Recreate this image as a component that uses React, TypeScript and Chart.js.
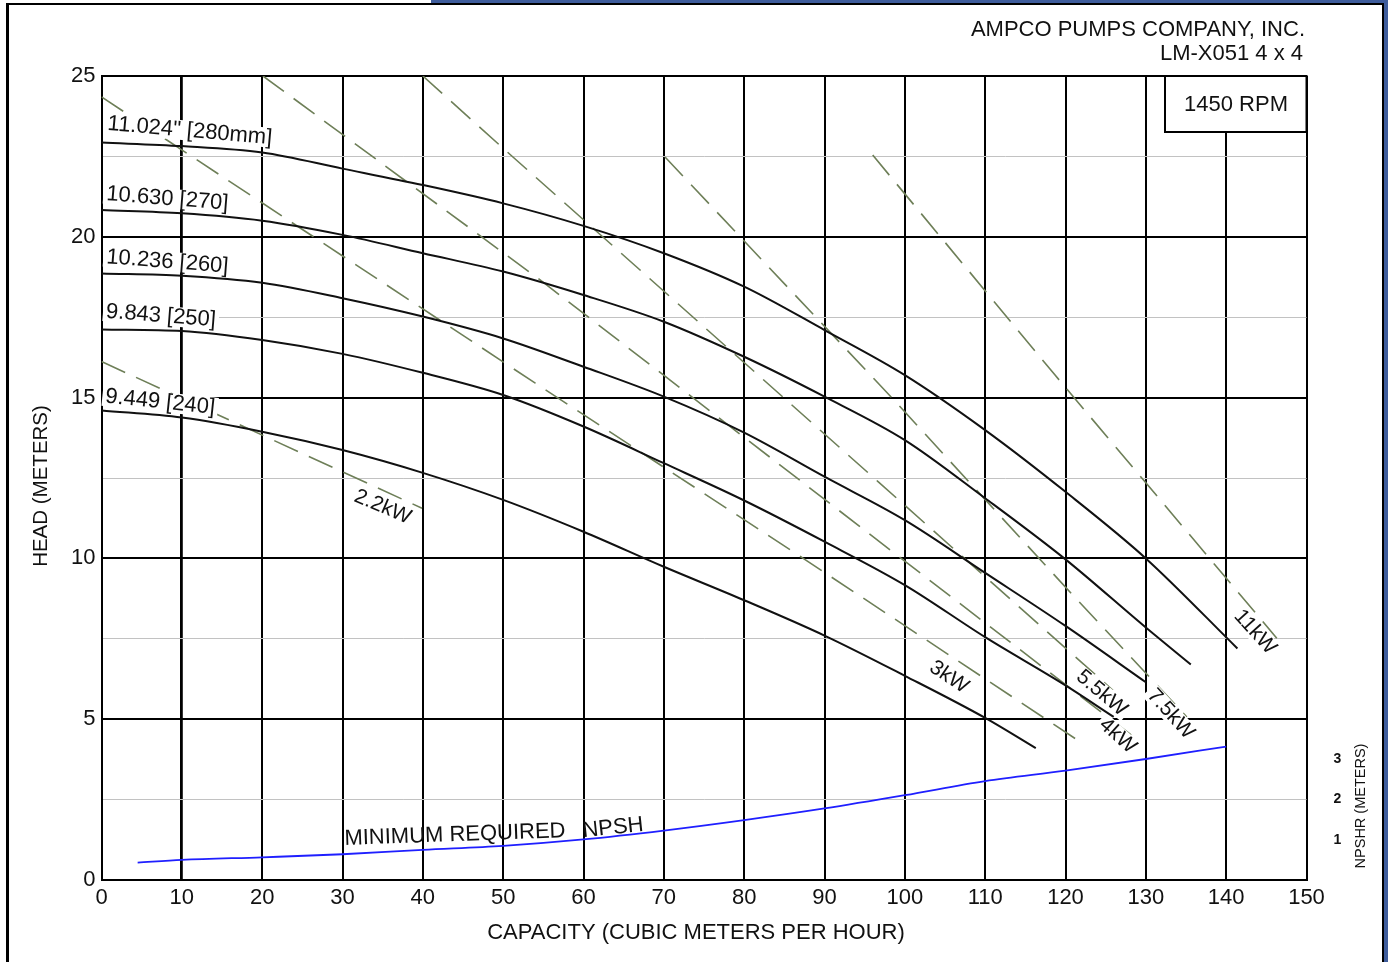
import React, { useEffect, useRef } from "react";
import { Chart, registerables } from "chart.js";

Chart.register(...registerables);

// ---------------- data ----------------
const flow280 = [0, 10, 20, 30, 40, 50, 60, 70, 80, 90, 100, 110, 120, 130, 141.4];
const head280 = [22.93, 22.82, 22.62, 22.12, 21.61, 21.04, 20.34, 19.49, 18.45, 17.1, 15.7, 13.99, 12.07, 10.0, 7.2];

const flow270 = [0, 10, 20, 30, 40, 50, 60, 70, 80, 90, 100, 110, 120, 130, 135.6];
const head270 = [20.83, 20.73, 20.5, 20.06, 19.49, 18.92, 18.19, 17.36, 16.27, 15.03, 13.68, 11.87, 9.97, 7.85, 6.7];

const flow260 = [0, 10, 20, 30, 40, 50, 60, 70, 80, 90, 100, 110, 120, 130];
const head260 = [18.86, 18.79, 18.57, 18.09, 17.52, 16.84, 15.96, 15.03, 13.91, 12.54, 11.19, 9.55, 7.9, 6.15];

const flow250 = [0, 10, 20, 30, 40, 50, 60, 70, 80, 90, 100, 110, 120, 126];
const head250 = [17.12, 17.07, 16.79, 16.36, 15.77, 15.08, 14.1, 12.96, 11.8, 10.52, 9.17, 7.55, 6.05, 5.07];

const flow240 = [0, 10, 20, 30, 40, 50, 60, 70, 80, 90, 100, 110, 116.3];
const head240 = [14.6, 14.38, 13.94, 13.37, 12.66, 11.82, 10.83, 9.74, 8.7, 7.6, 6.35, 5.04, 4.1];

const npshFlow = [4.5, 10, 20, 30, 40, 50, 60, 70, 80, 90, 100, 110, 120, 130, 140];
const npshRequired = [0.43, 0.5, 0.565, 0.64, 0.75, 0.85, 1.01, 1.23, 1.49, 1.78, 2.11, 2.46, 2.72, 3.01, 3.32];

const kw22Flow = [0, 39.9];
const kw22Head = [16.12, 11.56];
const kw3Flow = [0, 54, 87.3, 122.4];
const kw3Head = [24.35, 15.45, 10.01, 4.2];
const kw4Flow = [20.1, 54.6, 98.5, 129];
const kw4Head = [25, 18.66, 10.2, 4.35];
const kw55Flow = [40, 50.5, 96.7, 125.9];
const kw55Head = [25, 22.64, 12.38, 5.9];
const kw75Flow = [70.15, 98.4, 120.9, 135.1];
const kw75Head = [22.48, 14.99, 8.86, 5.07];
const kw11Flow = [96, 118.7, 146.3];
const kw11Head = [22.54, 15.7, 7.52];

const impellerLabels = ['11.024" [280mm]', "10.630 [270]", "10.236 [260]", "9.843 [250]", "9.449 [240]"];
const powerLabels = ["2.2kW", "3kW", "4kW", "5.5kW", "7.5kW", "11kW"];
const npshTicks = [1, 2, 3];

const titleLines = ["AMPCO PUMPS COMPANY, INC.", "LM-X051 4 x 4"];
const speedLabel = "1450 RPM";
const xTitle = "CAPACITY (CUBIC METERS PER HOUR)";
const yTitle = "HEAD (METERS)";
const y2Title = "NPSHR (METERS)";
const npshLabelA = "MINIMUM REQUIRED";
const npshLabelB = "NPSH";

// ---------------- label placement (data coords + angle) ----------------
type Place = { x: number; y: number; angle: number };
const impellerLabelPlaces: Place[] = [
  { x: 11.0, y: 23.29, angle: 5 },
  { x: 8.2, y: 21.18, angle: 4.5 },
  { x: 8.2, y: 19.22, angle: 4.5 },
  { x: 7.4, y: 17.54, angle: 4.5 },
  { x: 7.3, y: 14.86, angle: 6 },
];
const powerLabelPlaces: Place[] = [
  { x: 35.0, y: 11.6, angle: 23 },
  { x: 105.5, y: 6.31, angle: 34 },
  { x: 126.5, y: 4.48, angle: 42 },
  { x: 124.5, y: 5.81, angle: 40 },
  { x: 133.1, y: 5.16, angle: 48 },
  { x: 143.6, y: 7.71, angle: 48 },
];

const FONT = "'Liberation Sans', Arial, Helvetica, sans-serif";
const TXT = "#111";
const FS = 22;

function pts(xs: number[], ys: number[]) {
  return xs.map((x, i) => ({ x, y: ys[i] }));
}

function drawText(
  ctx: CanvasRenderingContext2D,
  text: string,
  px: number,
  py: number,
  angleDeg: number,
  size: number,
  align: CanvasTextAlign = "center",
  boxOnly = false
) {
  ctx.save();
  ctx.translate(px, py);
  ctx.rotate((angleDeg * Math.PI) / 180);
  ctx.font = `${size}px ${FONT}`;
  const w = ctx.measureText(text).width;
  if (boxOnly) {
    ctx.fillStyle = "#fff";
    ctx.fillRect(-w / 2 - 3, -size * 0.46, w + 6, size * 0.9);
  } else {
    ctx.fillStyle = TXT;
    ctx.textAlign = align;
    ctx.textBaseline = "middle";
    ctx.fillText(text, 0, 0);
  }
  ctx.restore();
}

export default function App() {
  const ref = useRef<HTMLCanvasElement>(null);

  useEffect(() => {
    const canvas = ref.current;
    if (!canvas) return;

    const solid = (data: { x: number; y: number }[]) => ({
      data,
      borderColor: "#111",
      borderWidth: 2,
      pointRadius: 0,
      fill: false,
      cubicInterpolationMode: "monotone" as const,
      yAxisID: "y",
    });
    const dashed = (data: { x: number; y: number }[]) => ({
      data,
      borderColor: "#6e7f58",
      borderWidth: 1.6,
      borderDash: [26, 12],
      pointRadius: 0,
      fill: false,
      tension: 0,
      yAxisID: "y",
    });

    const decor = {
      id: "decor",
      beforeDraw(chart: any) {
        const { ctx, width, height } = chart;
        ctx.save();
        ctx.fillStyle = "#fff";
        ctx.fillRect(0, 0, width, height);
        ctx.restore();
      },
      beforeDatasetsDraw(chart: any) {
        const { ctx, chartArea } = chart;
        ctx.save();
        const bx = 1165, by = chartArea.top, bw = chartArea.right - 1165, bh = 56;
        ctx.fillStyle = "#fff";
        ctx.fillRect(bx, by, bw, bh);
        ctx.strokeStyle = "#000";
        ctx.lineWidth = 2;
        ctx.strokeRect(bx, by, bw, bh);
        ctx.restore();
      },
      beforeDatasetDraw(chart: any, args: any) {
        if (args.index !== 5) return;
        const { ctx, scales } = chart;
        impellerLabels.forEach((t, i) => {
          const p = impellerLabelPlaces[i];
          drawText(ctx, t, scales.x.getPixelForValue(p.x), scales.y.getPixelForValue(p.y), p.angle, FS, "center", true);
        });
        powerLabels.forEach((t, i) => {
          const p = powerLabelPlaces[i];
          drawText(ctx, t, scales.x.getPixelForValue(p.x), scales.y.getPixelForValue(p.y), p.angle, 21, "center", true);
        });
      },
      afterDraw(chart: any) {
        const { ctx, scales } = chart;
        impellerLabels.forEach((t, i) => {
          const p = impellerLabelPlaces[i];
          drawText(ctx, t, scales.x.getPixelForValue(p.x), scales.y.getPixelForValue(p.y), p.angle, FS);
        });
        powerLabels.forEach((t, i) => {
          const p = powerLabelPlaces[i];
          drawText(ctx, t, scales.x.getPixelForValue(p.x), scales.y.getPixelForValue(p.y), p.angle, 21);
        });
        drawText(ctx, npshLabelA, 455, 835, -2, FS);
        drawText(ctx, npshLabelB, 613, 828, -6, FS);
        drawText(ctx, speedLabel, 1236, 105, 0, FS);
        drawText(ctx, titleLines[0], 1305, 30, 0, FS, "right");
        drawText(ctx, titleLines[1], 1303, 54, 0, FS, "right");
        drawText(ctx, xTitle, 696, 933, 0, FS);
        drawText(ctx, yTitle, 41, 486, -90, 20.5);
        drawText(ctx, y2Title, 1361, 806, -90, 14.5);

        // outer frame
        ctx.save();
        ctx.fillStyle = "#000";
        ctx.fillRect(6, 3, 1378, 2);
        ctx.fillRect(6, 3, 3, 959);
        ctx.fillRect(1382, 3, 2, 959);
        ctx.fillStyle = "#3f5d9c";
        ctx.fillRect(431, 0, 957, 3);
        ctx.fillRect(1384, 0, 4, 962);
        ctx.restore();
      },
    };

    const chart = new Chart(canvas, {
      type: "line",
      data: {
        datasets: [
          solid(pts(flow280, head280)),
          solid(pts(flow270, head270)),
          solid(pts(flow260, head260)),
          solid(pts(flow250, head250)),
          solid(pts(flow240, head240)),
          {
            data: pts(npshFlow, npshRequired),
            borderColor: "#1f1fff",
            borderWidth: 1.8,
            pointRadius: 0,
            fill: false,
            cubicInterpolationMode: "monotone",
            yAxisID: "y2",
          },
          dashed(pts(kw22Flow, kw22Head)),
          dashed(pts(kw3Flow, kw3Head)),
          dashed(pts(kw4Flow, kw4Head)),
          dashed(pts(kw55Flow, kw55Head)),
          dashed(pts(kw75Flow, kw75Head)),
          dashed(pts(kw11Flow, kw11Head)),
        ] as any,
      },
      options: {
        responsive: false,
        animation: false,
        events: [],
        layout: { padding: { top: 76, left: 0, right: 0, bottom: 0 } },
        plugins: { legend: { display: false }, tooltip: { enabled: false }, title: { display: false } },
        scales: {
          x: {
            type: "linear",
            min: 0,
            max: 150,
            afterFit: (s: any) => {
              s.height = 82;
            },
            ticks: {
              stepSize: 10,
              autoSkip: false,
              maxRotation: 0,
              padding: 5,
              color: TXT,
              font: { family: FONT, size: FS },
            },
            grid: {
              drawTicks: false,
              color: "#000",
              lineWidth: (c: any) => (c.tick && c.tick.value === 10 ? 2.8 : 2),
            },
            border: { display: true, color: "#000", width: 2 },
          },
          y: {
            type: "linear",
            position: "left",
            min: 0,
            max: 25,
            afterFit: (s: any) => {
              s.width = 101.5;
            },
            ticks: {
              stepSize: 2.5,
              autoSkip: false,
              padding: 6,
              color: TXT,
              font: { family: FONT, size: FS },
              callback: (v: any) => (Number(v) % 5 === 0 ? String(v) : ""),
            },
            grid: {
              drawTicks: false,
              color: (c: any) => (c.tick && c.tick.value % 5 !== 0 ? "#c2c2c2" : "#000"),
              lineWidth: (c: any) => (c.tick && c.tick.value % 5 !== 0 ? 1 : 2),
            },
            border: { display: true, color: "#000", width: 2 },
          },
          y2: {
            type: "linear",
            position: "right",
            min: 0,
            max: 20,
            afterFit: (s: any) => {
              s.width = 81.5;
            },
            afterBuildTicks: (axis: any) => {
              axis.ticks = npshTicks.map((v) => ({ value: v }));
            },
            ticks: {
              padding: 27,
              color: TXT,
              font: { family: FONT, size: 14, weight: "bold" },
              callback: (v: any) => String(v),
            },
            grid: { display: false, drawTicks: false },
            border: { display: false },
          },
        },
      },
      plugins: [decor],
    });

    return () => chart.destroy();
  }, []);

  return (
    <div style={{ position: "absolute", left: 0, top: 0, width: 1388, height: 962, background: "#fff" }}>
      <canvas ref={ref} width={1388} height={962} style={{ display: "block", width: 1388, height: 962 }} />
    </div>
  );
}
